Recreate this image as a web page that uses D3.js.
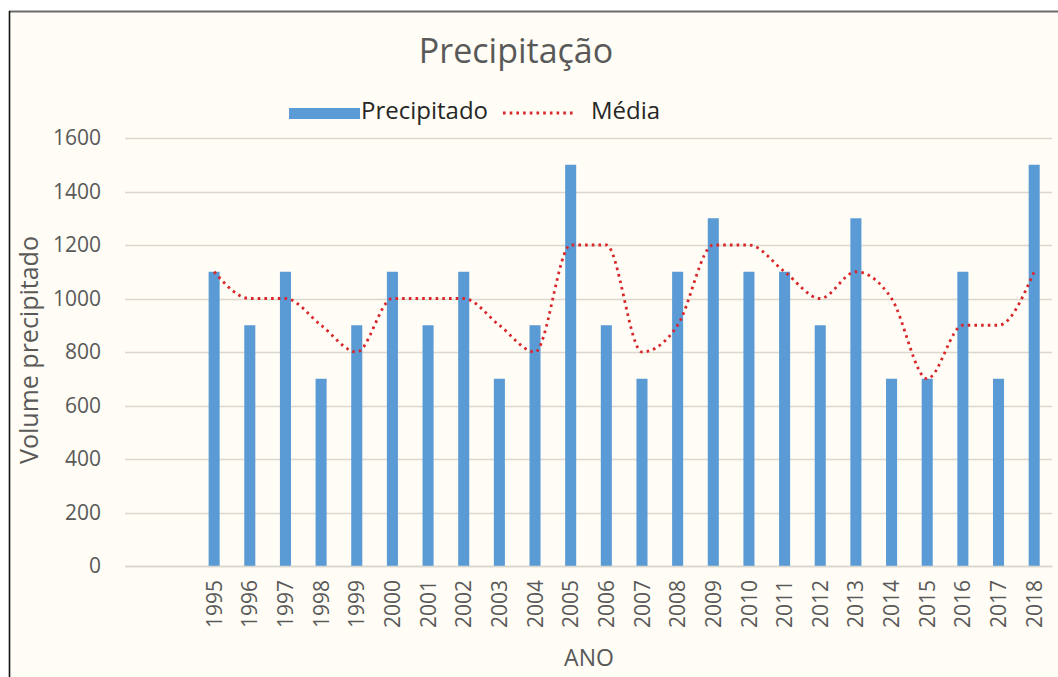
<!DOCTYPE html>
<html>
<head>
<meta charset="utf-8">
<script src="https://cdn.jsdelivr.net/npm/d3@7"></script>
<style>
  html, body { margin: 0; padding: 0; background: #ffffff; }
  svg { display: block; }
  text { font-family: "Open Sans", "Noto Sans", sans-serif; }
</style>
</head>
<body>
<svg id="chart" width="1058" height="677"></svg>
<script>
// Annual rainfall volume and its running average, 1995-2018
const years = ["1995","1996","1997","1998","1999","2000","2001","2002","2003","2004","2005","2006",
               "2007","2008","2009","2010","2011","2012","2013","2014","2015","2016","2017","2018"];
const precipitado = [1100, 900, 1100, 700, 900, 1100, 900, 1100, 700, 900, 1500, 900,
                     700, 1100, 1300, 1100, 1100, 900, 1300, 700, 700, 1100, 700, 1500];
const media = [1100, 1000, 1000, 900, 800, 1000, 1000, 1000, 900, 800, 1200, 1200,
               800, 900, 1200, 1200, 1100, 1000, 1100, 1000, 700, 900, 900, 1100];
const yTicks = [0, 200, 400, 600, 800, 1000, 1200, 1400, 1600];
const leadingGaps = 2; // empty category slots before the first year

const W = 1058, H = 677;
const plot = { left: 125, right: 1052, top: 138, bottom: 566 };
const barColor = "#5b9bd5";
const lineColor = "#d9262b";
const textGrey = "#595959";

const svg = d3.select("#chart");

// Chart area with its frame
svg.append("rect").attr("x", 9).attr("y", 11).attr("width", W - 9).attr("height", H - 11)
  .attr("fill", "#fffdf5");
svg.append("line").attr("x1", 9).attr("x2", W).attr("y1", 11.5).attr("y2", 11.5)
  .attr("stroke", "#6b6b6b").attr("stroke-width", 2);
svg.append("line").attr("x1", 9.5).attr("x2", 9.5).attr("y1", 11).attr("y2", H)
  .attr("stroke", "#111").attr("stroke-width", 1.6);

// Scales
const slots = d3.range(-leadingGaps, years.length);
const x = d3.scaleBand().domain(slots).range([plot.left, plot.right]).paddingInner(0).paddingOuter(0);
const barW = x.bandwidth() * 0.31;
const cx = i => x(i) + x.bandwidth() / 2;
const y = d3.scaleLinear().domain([0, 1600]).range([plot.bottom, plot.top]);

// Horizontal gridlines
svg.append("g").selectAll("line").data(yTicks).join("line")
  .attr("x1", plot.left).attr("x2", plot.right)
  .attr("y1", d => Math.round(y(d)) + 0.5).attr("y2", d => Math.round(y(d)) + 0.5)
  .attr("stroke", "#dcd8d0").attr("stroke-width", 1.3);

// Y axis labels
const yAxis = d3.axisLeft(y).tickValues(yTicks).tickSize(0).tickPadding(0).tickFormat(d3.format("d"));
const gy = svg.append("g").attr("transform", `translate(${plot.left - 24},0)`).call(yAxis);
gy.select(".domain").remove();
gy.selectAll("text").attr("font-size", 21).attr("fill", textGrey)
  .attr("font-family", "Open Sans, sans-serif");

// Bars
svg.append("g").selectAll("rect").data(precipitado).join("rect")
  .attr("x", (d, i) => cx(i) - barW / 2)
  .attr("width", barW)
  .attr("y", d => y(d))
  .attr("height", d => y(0) - y(d))
  .attr("fill", barColor);

// X axis labels (years, rotated)
const xAxis = d3.axisBottom(x).tickSize(0).tickPadding(0)
  .tickFormat(i => i >= 0 ? years[i] : "");
const gx = svg.append("g").attr("transform", `translate(0,${plot.bottom})`).call(xAxis);
gx.select(".domain").attr("stroke", "#d9d6cf").attr("stroke-width", 1.3);
gx.selectAll("text")
  .attr("font-size", 21).attr("fill", textGrey).attr("font-family", "Open Sans, sans-serif")
  .attr("transform", "rotate(-90)")
  .attr("text-anchor", "end")
  .attr("x", -14).attr("y", 0).attr("dy", "0.36em");

// Average line (smoothed, dotted)
const line = d3.line()
  .x((d, i) => cx(i))
  .y(d => y(d))
  .curve(d3.curveMonotoneX);
svg.append("path").datum(media)
  .attr("d", line)
  .attr("fill", "none")
  .attr("stroke", lineColor)
  .attr("stroke-width", 2.8)
  .attr("stroke-dasharray", "2.6,4.1");

// Title
svg.append("text").attr("x", 516).attr("y", 63).attr("text-anchor", "middle")
  .attr("font-size", 34).attr("fill", textGrey).text("Precipitação");

// Legend
const lg = svg.append("g");
lg.append("rect").attr("x", 289).attr("y", 108).attr("width", 71).attr("height", 11).attr("fill", barColor);
lg.append("text").attr("x", 361).attr("y", 119).attr("font-size", 24).attr("fill", "#262626").text("Precipitado");
lg.append("line").attr("x1", 503).attr("x2", 576).attr("y1", 113).attr("y2", 113)
  .attr("stroke", lineColor).attr("stroke-width", 2.8).attr("stroke-dasharray", "2.6,4.1");
lg.append("text").attr("x", 591).attr("y", 119).attr("font-size", 24).attr("fill", "#262626").text("Média");

// Axis titles
svg.append("text").attr("transform", "translate(38,350) rotate(-90)").attr("text-anchor", "middle")
  .attr("font-size", 25).attr("fill", textGrey).text("Volume precipitado");
svg.append("text").attr("x", 589).attr("y", 666).attr("text-anchor", "middle")
  .attr("font-size", 23).attr("fill", textGrey).text("ANO");
</script>
</body>
</html>
